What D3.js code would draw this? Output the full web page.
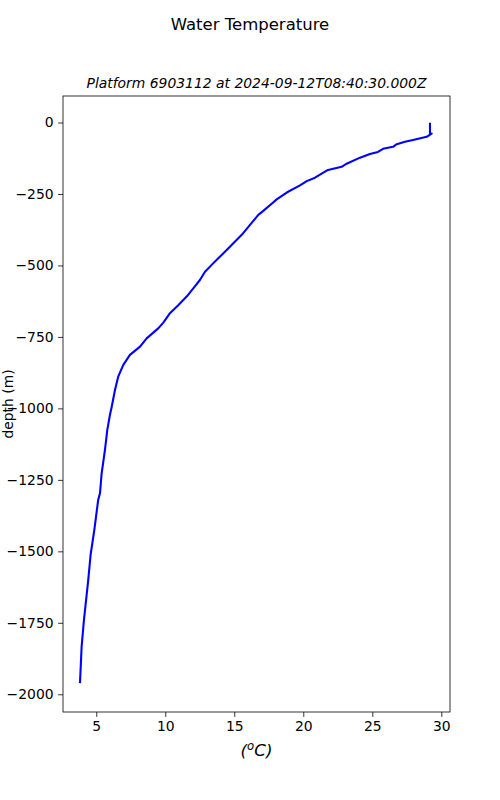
<!DOCTYPE html>
<html lang="en">
<head>
  <meta charset="UTF-8">
  <title>Water Temperature</title>
  <script src="https://d3js.org/d3.v7.min.js"></script>
  <style>
    body { margin: 0; background: #fff; }
    text { font-family: "DejaVu Sans", sans-serif; }
  </style>
</head>
<body>
  <script>
    // profile (temperature in degC, depth in m)
    var temperature = [29.18, 29.18, 29.30, 28.94, 27.95, 27.37, 26.77, 26.50, 25.78, 25.41,
      24.83, 24.11, 23.14, 22.78, 21.79, 21.33, 20.85, 20.25, 19.76, 18.80,
      18.07, 17.71, 17.10, 16.74, 16.14, 15.54, 14.93, 14.45, 13.84, 13.36,
      12.88, 12.51, 12.03, 11.55, 10.92, 10.34, 9.86, 9.49, 8.65, 8.17,
      7.44, 6.96, 6.59, 6.36, 6.12, 5.99, 5.80, 5.63, 5.39, 5.27,
      5.14, 4.86, 4.59, 4.42, 4.11, 3.94, 3.82];
    var depth = [-1, -41, -39, -50, -61, -67, -76, -85, -92, -103,
      -110, -123, -144, -155, -166, -179, -193, -205, -220, -245,
      -269, -284, -309, -323, -358, -393, -422, -446, -475, -498,
      -522, -551, -580, -609, -640, -667, -700, -720, -755, -784,
      -813, -848, -889, -935, -994, -1023, -1075, -1145, -1227, -1297,
      -1320, -1425, -1512, -1600, -1739, -1833, -1961];
    var xTicks = [5, 10, 15, 20, 25, 30];
    var yTicks = [0, -250, -500, -750, -1000, -1250, -1500, -1750, -2000];

    var W = 500, H = 800;
    var margin = { top: 96, right: 50, bottom: 88, left: 63 };
    var width = W - margin.left - margin.right;
    var height = H - margin.top - margin.bottom;

    var x = d3.scaleLinear().domain([2.59, 30.63]).range([0, width]);
    var y = d3.scaleLinear().domain([92.7, -2062]).range([0, height]);

    var svg = d3.select("body").append("svg")
      .attr("width", W)
      .attr("height", H);

    svg.append("text")
      .attr("x", W / 2)
      .attr("y", 30)
      .attr("text-anchor", "middle")
      .style("font-size", "16.5px")
      .text("Water Temperature");

    var g = svg.append("g")
      .attr("transform", "translate(" + margin.left + "," + margin.top + ")");

    g.append("text")
      .attr("x", width / 2)
      .attr("y", -8)
      .attr("text-anchor", "middle")
      .style("font-size", "13.9px")
      .style("font-style", "italic")
      .text("Platform 6903112 at 2024-09-12T08:40:30.000Z");

    // the profile line
    var line = d3.line()
      .x(function (d, i) { return x(temperature[i]); })
      .y(function (d) { return y(d); });

    g.append("path")
      .datum(depth)
      .attr("fill", "none")
      .attr("stroke", "#0000ff")
      .attr("stroke-width", 2.1)
      .attr("stroke-linejoin", "round")
      .attr("d", line);

    // axes
    var xAxis = g.append("g")
      .attr("transform", "translate(0," + height + ")")
      .call(d3.axisBottom(x).tickValues(xTicks).tickSize(4.9).tickPadding(4.5).tickFormat(d3.format("d")));
    var yAxis = g.append("g")
      .call(d3.axisLeft(y).tickValues(yTicks).tickSize(4.9).tickPadding(4.5)
        .tickFormat(function (d) { return d < 0 ? "\u2212" + Math.abs(d) : d; }));

    [xAxis, yAxis].forEach(function (a) {
      a.select(".domain").remove();
      a.selectAll("line").attr("stroke", "#000").attr("stroke-width", 0.8);
      a.selectAll("text").attr("fill", "#000").style("font-size", "13.9px")
        .style("font-family", "DejaVu Sans, sans-serif");
    });

    // frame
    g.append("rect")
      .attr("width", width)
      .attr("height", height)
      .attr("fill", "none")
      .attr("stroke", "#000")
      .attr("stroke-width", 0.8);

    // axis labels
    var xl = g.append("text")
      .attr("x", width / 2)
      .attr("y", height + 44)
      .attr("text-anchor", "middle")
      .style("font-size", "16.7px")
      .style("font-style", "italic");
    xl.append("tspan").text("(");
    xl.append("tspan").attr("dy", -6).style("font-size", "11.7px").text("o");
    xl.append("tspan").attr("dy", 6).text("C)");

    g.append("text")
      .attr("transform", "translate(" + (-50) + "," + (height / 2) + ") rotate(-90)")
      .attr("text-anchor", "middle")
      .style("font-size", "13.9px")
      .text("depth (m)");
  </script>
</body>
</html>
